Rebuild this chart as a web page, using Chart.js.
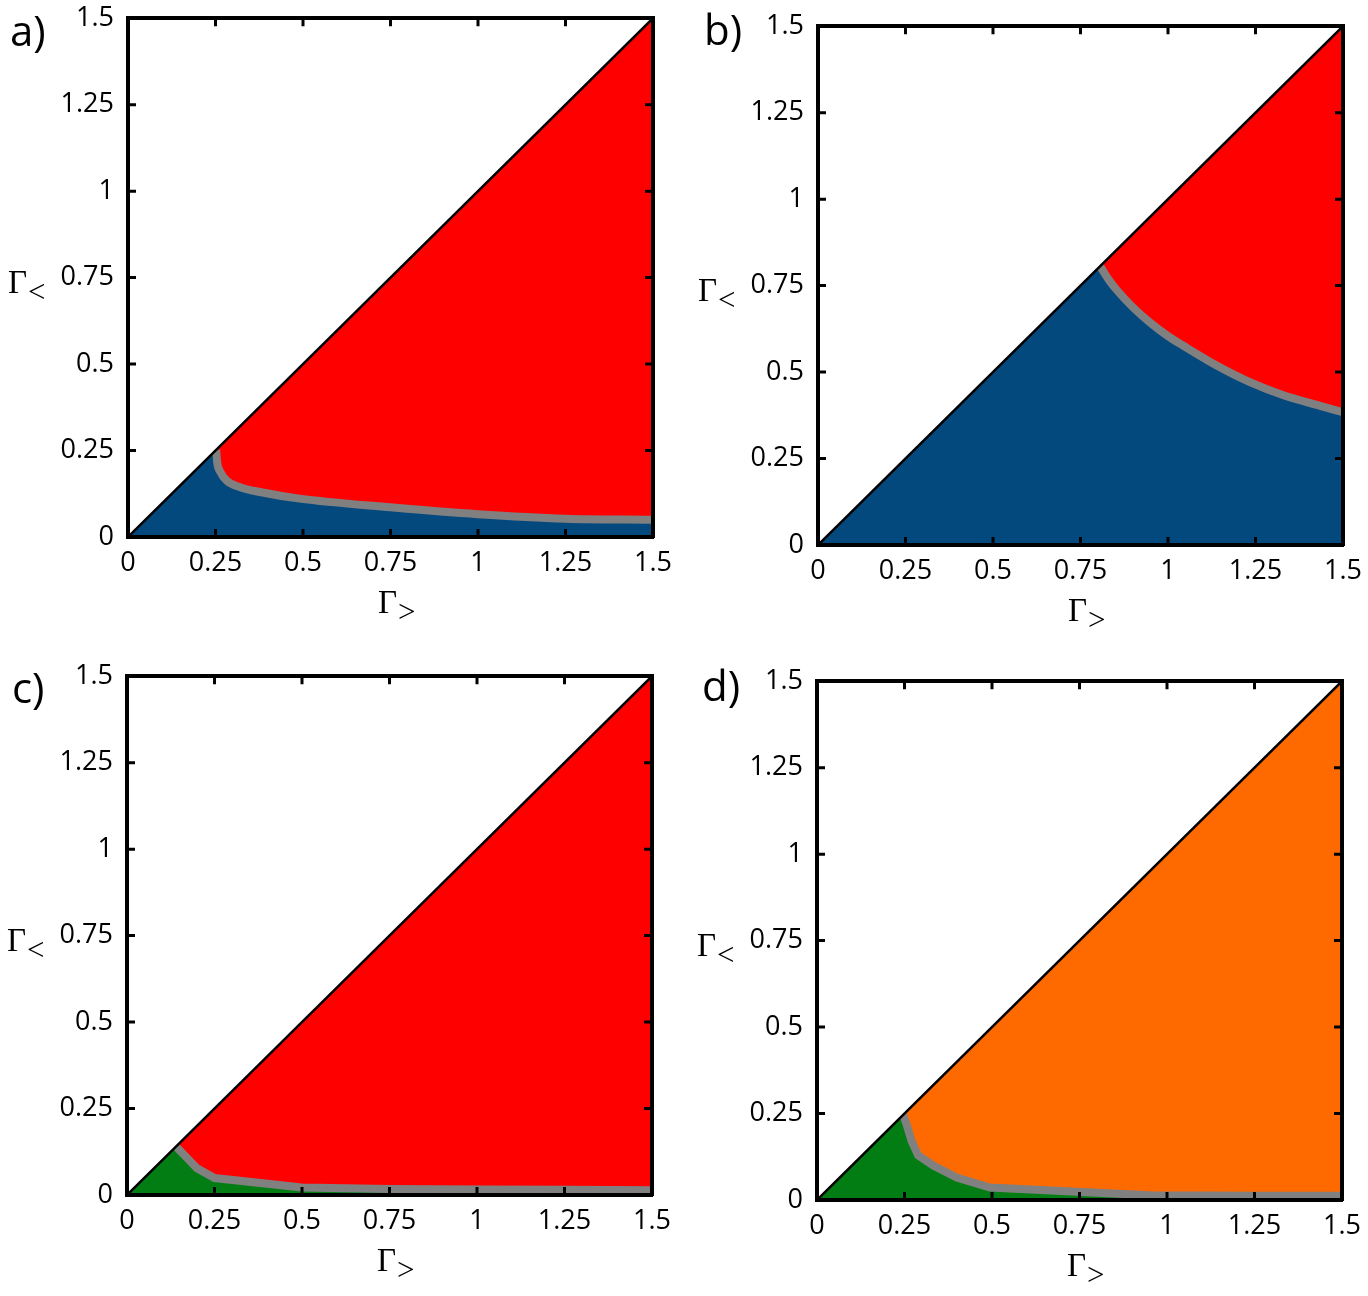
<!DOCTYPE html>
<html>
<head>
<meta charset="utf-8">
<script src="https://cdn.jsdelivr.net/npm/chart.js@4.4.0/dist/chart.umd.min.js"></script>
<style>
body { margin: 0; background: #fff; }
#wrap { position: relative; width: 1368px; height: 1296px; overflow: hidden; }
canvas { position: absolute; }
.lab { position: absolute; font-family: "Open Sans"; font-size: 42px; line-height: 42px; color: #000; z-index: 2; }
.ttl { position: absolute; font-family: "Liberation Serif"; font-size: 33px; line-height: 33px; color: #000; white-space: nowrap; z-index: 2; }
.ttl span { font-size: 31px; position: relative; top: 9px; margin-left: 1px; }
</style>
</head>
<body>
<div id="wrap"></div>
<script>
// ticks, same on every axis
const tickVals = [0, 0.25, 0.5, 0.75, 1, 1.25, 1.5];
const tickLabels = ['0', '0.25', '0.5', '0.75', '1', '1.25', '1.5'];

// the diagonal Γ< = Γ>
const diagX = [0, 1.5];
const diagY = [0, 1.5];

// boundary curves (gray line)
const aBoundX = [0.252, 0.255, 0.263, 0.282, 0.32, 0.377, 0.49, 0.75, 1.0, 1.25, 1.5];
const aBoundY = [0.252, 0.215, 0.19, 0.163, 0.144, 0.13, 0.111, 0.086, 0.066, 0.053, 0.05];

const bBoundX = [0.806, 0.83, 0.853, 0.901, 0.949, 1.0, 1.044, 1.139, 1.234, 1.33, 1.425, 1.5];
const bBoundY = [0.806, 0.768, 0.738, 0.686, 0.643, 0.604, 0.576, 0.519, 0.471, 0.433, 0.405, 0.384];

const cBoundX = [0.14, 0.2, 0.25, 0.5, 0.75, 1.0, 1.25, 1.5];
const cBoundY = [0.14, 0.077, 0.049, 0.022, 0.017, 0.016, 0.015, 0.014];

const dBoundX = [0.246, 0.256, 0.27, 0.289, 0.331, 0.399, 0.494, 0.742, 0.951, 1.25, 1.5];
const dBoundY = [0.246, 0.219, 0.171, 0.129, 0.1, 0.065, 0.036, 0.024, 0.014, 0.012, 0.012];

const panels = [
  { name: 'a)', left: 128, top: 12, labX: 10, labY: 9, high: '#ff0000', low: '#03497e', bx: aBoundX, by: aBoundY, smooth: true },
  { name: 'b)', left: 818, top: 20, labX: 704, labY: 8, high: '#ff0000', low: '#03497e', bx: bBoundX, by: bBoundY, smooth: true },
  { name: 'c)', left: 127, top: 670, labX: 12, labY: 666, high: '#ff0000', low: '#027d14', bx: cBoundX, by: cBoundY, smooth: false },
  { name: 'd)', left: 817, top: 675, labX: 702, labY: 664, high: '#ff6a00', low: '#027d14', bx: dBoundX, by: dBoundY, smooth: false }
];

const wrap = document.getElementById('wrap');

function pts(xs, ys) {
  return xs.map((x, i) => ({ x: x, y: ys[i] }));
}

// gnuplot style: short ticks pointing into the plot on all four sides
const inwardTicks = {
  id: 'inwardTicks',
  afterDraw(chart) {
    const ctx = chart.ctx, a = chart.chartArea;
    const x = chart.scales.x, y = chart.scales.y;
    ctx.save();
    ctx.strokeStyle = '#000';
    ctx.lineWidth = 3;
    ctx.beginPath();
    tickVals.slice(1, -1).forEach(v => {
      const px = x.getPixelForValue(v), py = y.getPixelForValue(v);
      ctx.moveTo(px, a.bottom); ctx.lineTo(px, a.bottom - 8);
      ctx.moveTo(px, a.top); ctx.lineTo(px, a.top + 8);
      ctx.moveTo(a.left, py); ctx.lineTo(a.left + 8, py);
      ctx.moveTo(a.right, py); ctx.lineTo(a.right - 8, py);
    });
    ctx.stroke();
    ctx.restore();
  }
};

const tickFont = { family: 'Open Sans', size: 27 };
// z > 0 puts the frame on top of the filled regions
const frame = { display: true, color: '#000', width: 4, z: 1 };

function mainAxis(pos, fit) {
  return {
    type: 'linear', position: pos, min: 0, max: 1.5,
    afterBuildTicks: s => { s.ticks = tickVals.map(v => ({ value: v })); },
    afterFit: fit,
    grid: { display: false, drawTicks: false },
    border: frame,
    ticks: {
      padding: pos === 'bottom' ? 10 : 14, z: 1,
      color: '#000', font: tickFont, maxRotation: 0, autoSkip: false,
      callback: (v, i) => tickLabels[i]
    }
  };
}

function sideAxis(pos, fit) {
  return {
    type: 'linear', position: pos, min: 0, max: 1.5,
    afterFit: fit,
    grid: { display: false, drawTicks: false },
    border: frame,
    ticks: { display: false }
  };
}

panels.forEach(p => {
  const cv = document.createElement('canvas');
  cv.width = 665;
  cv.height = 599;
  cv.style.left = (p.left - 100) + 'px';
  cv.style.top = (p.top - 24) + 'px';
  wrap.appendChild(cv);

  const lowPts = [{ x: 0, y: 0 }].concat(pts(p.bx, p.by));
  const curve = p.smooth ? 'monotone' : 'default';

  new Chart(cv, {
    type: 'line',
    data: {
      datasets: [
        { data: pts(diagX, diagY), borderColor: '#000', borderWidth: 2.5, backgroundColor: '#fff', fill: 'end', order: 1 },
        { data: pts(p.bx, p.by), borderColor: '#808080', borderWidth: 8, fill: false, order: 2, cubicInterpolationMode: curve },
        { data: lowPts, borderColor: 'rgba(0,0,0,0)', borderWidth: 0, backgroundColor: p.low, fill: 'origin', order: 3, cubicInterpolationMode: curve },
        { data: pts(diagX, diagY), borderColor: 'rgba(0,0,0,0)', borderWidth: 0, backgroundColor: p.high, fill: 'origin', order: 4 }
      ]
    },
    options: {
      responsive: false,
      animation: false,
      devicePixelRatio: 1,
      layout: { padding: { top: 24, right: 40, left: 0, bottom: 0 } },
      elements: { point: { radius: 0, hoverRadius: 0 }, line: { tension: 0 } },
      datasets: { line: { clip: 0 } },
      plugins: { legend: { display: false }, tooltip: { enabled: false } },
      events: [],
      scales: {
        x: mainAxis('bottom', s => { s.height = 50; }),
        y: mainAxis('left', s => { s.width = 100; }),
        xTop: sideAxis('top', s => { s.height = 0; }),
        yRight: sideAxis('right', s => { s.width = 0; })
      }
    },
    plugins: [inwardTicks]
  });

  const lab = document.createElement('div');
  lab.className = 'lab';
  lab.textContent = p.name;
  lab.style.left = p.labX + 'px';
  lab.style.top = p.labY + 'px';
  wrap.appendChild(lab);

  const yt = document.createElement('div');
  yt.className = 'ttl';
  yt.innerHTML = 'Γ<span>&lt;</span>';
  yt.style.left = (p.left - 120) + 'px';
  yt.style.top = (p.top + 254) + 'px';
  wrap.appendChild(yt);

  const xt = document.createElement('div');
  xt.className = 'ttl';
  xt.innerHTML = 'Γ<span>&gt;</span>';
  xt.style.left = (p.left + 250) + 'px';
  xt.style.top = (p.top + 574) + 'px';
  wrap.appendChild(xt);
});
</script>
</body>
</html>
